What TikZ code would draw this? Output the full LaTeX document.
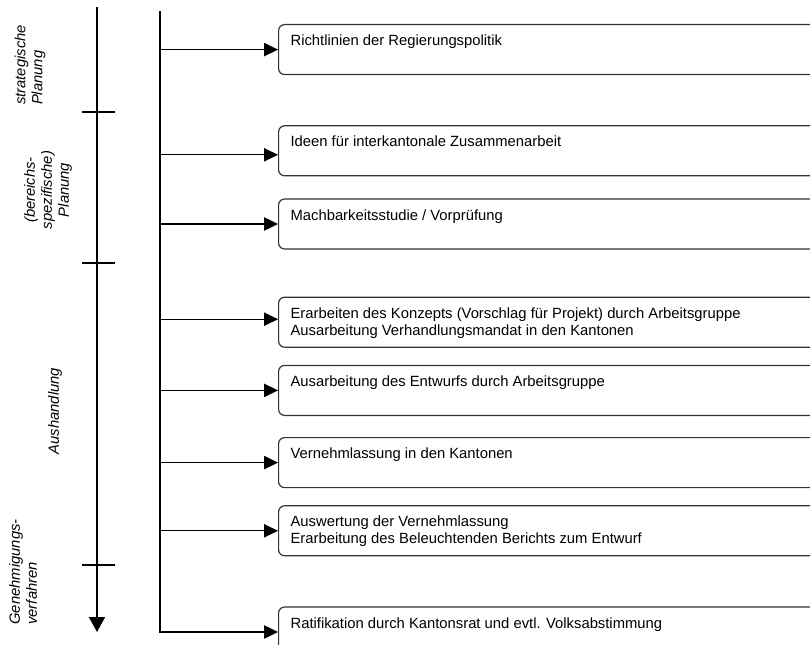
\documentclass[tikz,border=0pt]{standalone}
\usepackage{fontspec}
\setmainfont{Liberation Sans}
\usepackage{tikz}
\usetikzlibrary{%
   arrows.meta,%
   calc,%
   positioning}

\begin{document}
\begin{tikzpicture}
	[x=0.75pt,y=-0.75pt,
	every node/.style={font=\fontsize{11.1pt}{12.75pt}\selectfont},
	task/.style={draw=black!80,line width=0.9pt,rounded corners=4.5pt,inner xsep=9pt,inner ysep=6.85pt},
	phase/.style={rotate=90,font=\fontsize{11.1pt}{12.75pt}\selectfont\itshape,inner sep=0pt},
	flow/.style={line width=1pt,-{Triangle[length=10.5pt,width=10pt]}},
	trunk/.style={line width=1.3pt,line cap=rect},
	timeline/.style={line width=1.4pt,-{Triangle[length=11.25pt,width=12pt]}},
	tickline/.style={line width=1.1pt}]
	\useasboundingbox (0,0) rectangle (810,645);
	\clip (0,0) rectangle (810,645);
	\node [task,anchor=north west] (b1) at (278,24)
	{\parbox[c][23.8pt][t]{420pt}{\strut Richtlinien der Regierungspolitik}};
	\node [task] (b2) [below=37.5pt of b1]
	{\parbox[c][23.8pt][t]{420pt}{\strut Ideen für interkantonale Zusammenarbeit}};
	\node [task] (b3) [below=16.5pt of b2]
	{\parbox[c][23.8pt][t]{420pt}{\strut Machbarkeitsstudie / Vorprüfung}};
	\node [task] (b4) [below=35.25pt of b3]
	{\parbox[c][23.8pt][t]{420pt}{\strut Erarbeiten des Konzepts (Vorschlag für Projekt) durch Arbeitsgruppe\\Ausarbeitung Verhandlungsmandat in den Kantonen}};
	\node [task] (b5) [below=12.75pt of b4]
	{\parbox[c][23.8pt][t]{420pt}{\strut Ausarbeitung des Entwurfs durch Arbeitsgruppe}};
	\node [task] (b6) [below=15.75pt of b5]
	{\parbox[c][23.8pt][t]{420pt}{\strut Vernehmlassung in den Kantonen}};
	\node [task] (b7) [below=12.75pt of b6]
	{\parbox[c][23.8pt][t]{420pt}{\strut Auswertung der Vernehmlassung\\Erarbeitung des Beleuchtenden Berichts zum Entwurf}};
	\node [task] (b8) [below=37.5pt of b7]
	{\parbox[c][23.8pt][t]{420pt}{\strut Ratifikation durch Kantonsrat und evtl. Volksabstimmung}};
	\coordinate (top) at (160,12);
	\draw [trunk] (top) -- (top |- b8.west);
	\draw [flow] (top |- b1.west) -- (b1.west);
	\draw [flow] ($(top |- b2.west)+(0,4)$) -- ($(b2.west)+(0,4)$);
	\draw [flow] (top |- b3.west) -- (b3.west);
	\draw [flow] ($(top |- b4.west)+(0,-3)$) -- ($(b4.west)+(0,-3)$);
	\draw [flow] (top |- b5.west) -- (b5.west);
	\draw [flow] (top |- b6.west) -- (b6.west);
	\draw [flow] (top |- b7.west) -- (b7.west);
	\draw [flow] (top |- b8.west) -- (b8.west);
	\coordinate (start) at (97,7);
	\coordinate (end) at (97,632);
	\draw [timeline] (start) -- (end);
	\draw [tickline] (82,112) -- (115,112);
	\draw [tickline] (82,263) -- (115,263);
	\draw [tickline] (82,565) -- (115,565);
	\node [phase,align=left] (p1) at (30,65) {strategische\\Planung};
	\node [phase,align=center] (p2) at (48,190) {(bereichs-\\spezifische)\\Planung};
	\node [phase] (p3) at (55,411) {Aushandlung};
	\node [phase,align=left] (p4) at (23,572) {Genehmigungs-\\verfahren};
\end{tikzpicture}
\end{document}
